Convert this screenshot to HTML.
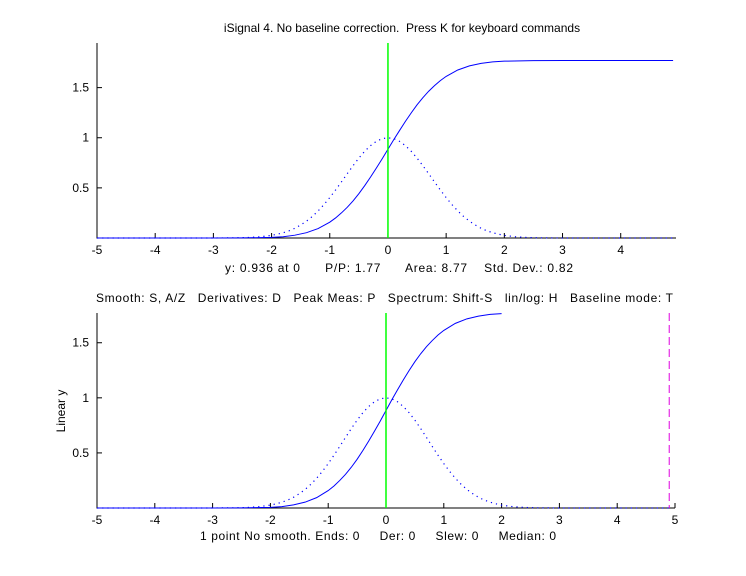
<!DOCTYPE html>
<html><head><meta charset="utf-8"><style>
body{margin:0;background:#fff;width:746px;height:571px;overflow:hidden}
svg text{font-family:"Liberation Sans",sans-serif;font-size:12px;fill:#000;white-space:pre}
</style></head><body>
<svg id="chart" width="746" height="571" viewBox="0 0 746 571" xmlns="http://www.w3.org/2000/svg">
<text x="402" y="32" text-anchor="middle">iSignal 4. No baseline correction.  Press K for keyboard commands</text>
<text x="225" y="272" textLength="348" lengthAdjust="spacing">y: 0.936 at 0      P/P: 1.77      Area: 8.77    Std. Dev.: 0.82</text>
<text x="96" y="302" textLength="577" lengthAdjust="spacing">Smooth: S, A/Z   Derivatives: D   Peak Meas: P   Spectrum: Shift-S   lin/log: H   Baseline mode: T</text>
<text x="200" y="540" textLength="356" lengthAdjust="spacing">1 point No smooth. Ends: 0     Der: 0     Slew: 0     Median: 0</text>
<text transform="translate(65,411) rotate(-90)" text-anchor="middle">Linear y</text>
<g id="top"></g>
<g id="bot"></g>
</svg>
<script>
const xs   = [-5,-4,-3,-2.5,-2,-1.8,-1.6,-1.4,-1.2,-1,-0.9,-0.8,-0.7,-0.6,-0.5,-0.4,-0.3,-0.2,-0.1,0,0.1,0.2,0.3,0.4,0.5,0.6,0.7,0.8,0.9,1,1.2,1.4,1.6,1.8,2,2.5,3,4,4.9];
const sigY = [0,0,0,0.001,0.006,0.013,0.028,0.053,0.094,0.158,0.2,0.25,0.306,0.37,0.442,0.522,0.607,0.697,0.789,0.885,0.981,1.073,1.163,1.248,1.328,1.4,1.464,1.52,1.57,1.612,1.676,1.717,1.742,1.757,1.764,1.769,1.77,1.77,1.77];
const gx   = [-5,-4,-3,-2.6,-2.4,-2.2,-2,-1.9,-1.8,-1.7,-1.6,-1.5,-1.4,-1.3,-1.2,-1.1,-1,-0.9,-0.8,-0.7,-0.6,-0.5,-0.4,-0.3,-0.2,-0.1,0,0.1,0.2,0.3,0.4,0.5,0.6,0.7,0.8,0.9,1,1.1,1.2,1.3,1.4,1.5,1.6,1.7,1.8,1.9,2,2.2,2.4,2.6,3,4,4.9];
const gy   = [0,0,0,0.002,0.005,0.012,0.026,0.038,0.053,0.072,0.097,0.13,0.168,0.215,0.27,0.333,0.403,0.479,0.559,0.641,0.721,0.797,0.865,0.921,0.964,0.991,1,0.991,0.964,0.921,0.865,0.797,0.721,0.641,0.559,0.479,0.403,0.333,0.27,0.215,0.168,0.13,0.097,0.072,0.053,0.038,0.026,0.012,0.005,0.002,0,0,0];
const yTicks = [0.5,1,1.5];
const xTicksTop = [-5,-4,-3,-2,-1,0,1,2,3,4];
const xTicksBot = [-5,-4,-3,-2,-1,0,1,2,3,4,5];
const cursorX = 0;
const markerX = 4.9;
const botMaxX = 2;
const NS="http://www.w3.org/2000/svg";
function mk(p,t,a){const e=document.createElementNS(NS,t);for(const k in a)e.setAttribute(k,a[k]);p.appendChild(e);return e;}
function panel(g,x0,x1,left,right,yb,yt,ymax,xt,isBot){
  const sx=v=>left+(v-x0)/(x1-x0)*(right-left);
  const sy=v=>yb-v/ymax*(yb-yt);
  const ax=mk(g,'path',{d:`M${left},${yt}V${yb}H${right}`,stroke:'#000',fill:'none','stroke-width':1});
  
  
  xt.forEach(v=>{
    const t=mk(g,'line',{x1:sx(v),x2:sx(v),y1:yb,y2:yb-5,stroke:'#000'});
    
    
    const l=mk(g,'text',{x:sx(v),y:yb+16,'text-anchor':'middle'});l.textContent=v;
    
    
  });
  yTicks.forEach(v=>{
    const t=mk(g,'line',{x1:left,x2:left+5,y1:sy(v),y2:sy(v),stroke:'#000'});
    
    
    const l=mk(g,'text',{x:left-8,y:sy(v)+4,'text-anchor':'end'});l.textContent=v;
    
    
  });
  const dp=mk(g,'polyline',{points:gx.map((x,i)=>sx(x)+','+sy(gy[i])).join(' '),fill:'none',stroke:'#00f','stroke-width':1.2,'stroke-dasharray':'1.2 4'});
  
  
  const pts=[];xs.forEach((x,i)=>{if(!isBot||x<=botMaxX)pts.push(sx(x)+','+sy(sigY[i]));});
  const sp=mk(g,'polyline',{points:pts.join(' '),fill:'none',stroke:'#00f','stroke-width':1});
  
  
  const c=mk(g,'line',{x1:sx(cursorX),x2:sx(cursorX),y1:yt,y2:yb,stroke:'#0f0','stroke-width':1.5});
  
  
  if(isBot){
    const m=mk(g,'line',{x1:sx(markerX),x2:sx(markerX),y1:yt,y2:yb,stroke:'#e000e0','stroke-dasharray':'8 4'});
    
    
  }
}
panel(document.getElementById('top'),-5,4.95,97,676,238,43,1.945,xTicksTop,false);
panel(document.getElementById('bot'),-5,5,97,675,508,313,1.77,xTicksBot,true);
</script>
</body></html>
